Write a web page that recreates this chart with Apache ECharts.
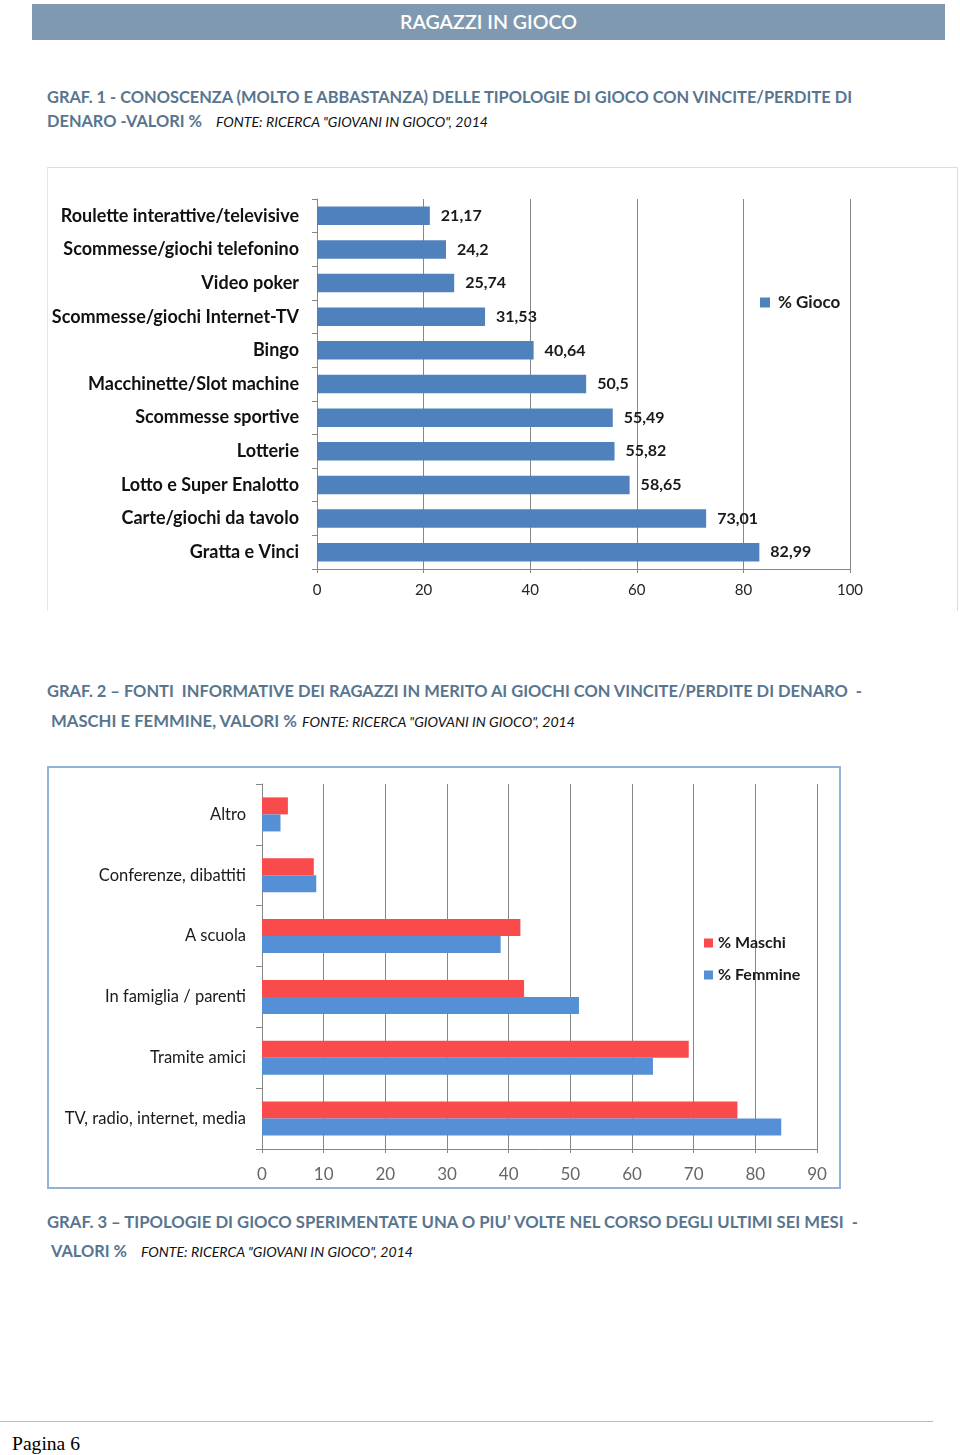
<!DOCTYPE html>
<html>
<head>
<meta charset="utf-8">
<script src="https://cdn.jsdelivr.net/npm/echarts@6/dist/echarts.min.js"></script>
<style>
  html,body{margin:0;padding:0;background:#fff;}
  body{width:960px;height:1455px;position:relative;overflow:hidden;font-family:Lato,"Open Sans",sans-serif;}
  .abs{position:absolute;white-space:nowrap;}
  .fit{display:inline-block;transform-origin:0 50%;}
  .h{color:#58758f;font-weight:700;font-size:17px;line-height:20px;}
  .src{color:#111;font-style:italic;font-size:13px;line-height:16px;}
</style>
</head>
<body>
<div class="abs" style="left:32px;top:4px;width:913px;height:36px;background:#7f9ab0;"></div>
<div class="abs" style="left:0;top:9px;width:960px;height:24px;"><span class="fit" data-w="177" style="position:absolute;left:400px;color:#fff;font-size:20px;line-height:24px;font-weight:600;">RAGAZZI IN GIOCO</span></div>

<div class="abs h" style="left:47px;top:87px;"><span class="fit" data-w="805">GRAF. 1 - CONOSCENZA (MOLTO E ABBASTANZA) DELLE TIPOLOGIE DI GIOCO CON VINCITE/PERDITE DI</span></div>
<div class="abs h" style="left:47px;top:111px;"><span class="fit" data-w="155">DENARO -VALORI %</span></div>
<div class="abs src" style="left:216px;top:114px;"><span class="fit" data-w="272">FONTE: RICERCA "GIOVANI IN GIOCO", 2014</span></div>

<div class="abs" style="left:47px;top:167px;width:909px;height:443px;border-top:1px solid #d8dee6;border-left:1px solid #e3e8ee;border-right:1px solid #d8dee6;"></div>
<div id="c1" class="abs" style="left:47px;top:167px;width:910px;height:443px;"></div>

<div class="abs h" style="left:47px;top:681px;"><span class="fit" data-w="815">GRAF. 2 – FONTI&nbsp; INFORMATIVE DEI RAGAZZI IN MERITO AI GIOCHI CON VINCITE/PERDITE DI DENARO&nbsp; -</span></div>
<div class="abs h" style="left:51px;top:711px;"><span class="fit" data-w="246">MASCHI E FEMMINE, VALORI %</span></div>
<div class="abs src" style="left:302px;top:714px;"><span class="fit" data-w="273">FONTE: RICERCA "GIOVANI IN GIOCO", 2014</span></div>

<div id="c2" class="abs" style="left:48px;top:767px;width:792px;height:421px;"></div>
<div class="abs" style="left:47px;top:766px;width:790px;height:419px;border:2px solid #95b3d7;pointer-events:none;"></div>

<div class="abs h" style="left:47px;top:1212px;"><span class="fit" data-w="811">GRAF. 3 – TIPOLOGIE DI GIOCO SPERIMENTATE UNA O PIU’ VOLTE NEL CORSO DEGLI ULTIMI SEI MESI&nbsp; -</span></div>
<div class="abs h" style="left:51px;top:1241px;"><span class="fit" data-w="76">VALORI %</span></div>
<div class="abs src" style="left:141px;top:1244px;"><span class="fit" data-w="272">FONTE: RICERCA "GIOVANI IN GIOCO", 2014</span></div>

<div class="abs" style="left:0;top:1421px;width:933px;height:1px;background:#b4bcc4;"></div>
<div class="abs" style="left:12px;top:1433px;font-family:'Liberation Serif','DejaVu Serif',serif;font-size:19px;line-height:22px;color:#000;"><span class="fit" data-w="68">Pagina 6</span></div>

<script>
// ---- Chart 1 data ----
const cat1 = ["Roulette interattive/televisive","Scommesse/giochi telefonino","Video poker","Scommesse/giochi Internet-TV","Bingo","Macchinette/Slot machine","Scommesse sportive","Lotterie","Lotto e Super Enalotto","Carte/giochi da tavolo","Gratta e Vinci"];
const val1 = [21.17, 24.2, 25.74, 31.53, 40.64, 50.5, 55.49, 55.82, 58.65, 73.01, 82.99];
const name1 = "% Gioco";

// ---- Chart 2 data ----
const cat2 = ["Altro","Conferenze, dibattiti","A scuola","In famiglia / parenti","Tramite amici","TV, radio, internet, media"];
const maschi = [4.2, 8.4, 41.9, 42.5, 69.2, 77.1];
const femmine = [3.0, 8.8, 38.7, 51.4, 63.4, 84.2];
const name2a = "% Maschi", name2b = "% Femmine";

// fit headings to measured widths
document.querySelectorAll('.fit').forEach(el => {
  const w = el.getBoundingClientRect().width;
  const t = +el.dataset.w;
  if (w > 0) el.style.transform = 'scaleX(' + (t / w) + ')';
});

const gray = '#868686';
const c1 = echarts.init(document.getElementById('c1'));
c1.setOption({
  animation: false,
  textStyle: {fontFamily: 'Lato'},
  grid: {left: 270, top: 32, width: 533, height: 370},
  legend: {
    data: [name1], left: 708, top: 122, icon: 'rect', itemWidth: 10, itemHeight: 10,
    textStyle: {fontSize: 17, fontWeight: 'bold', color: '#1a1a1a', padding: [0, 0, 0, 3]}
  },
  xAxis: {
    type: 'value', min: 0, max: 100, interval: 20,
    axisLine: {show: true, lineStyle: {color: gray}},
    axisTick: {show: true, length: 4, lineStyle: {color: gray}},
    splitLine: {lineStyle: {color: gray}},
    axisLabel: {fontSize: 15, color: '#262626', margin: 14}
  },
  yAxis: {
    type: 'category', inverse: true, data: cat1,
    axisLine: {lineStyle: {color: gray}},
    axisTick: {show: true, length: 5, lineStyle: {color: gray}},
    axisLabel: {fontSize: 18, fontWeight: 'bold', color: '#111', margin: 18, padding: [2, 0, 0, 0]}
  },
  series: [{
    type: 'bar', name: name1, data: val1, barCategoryGap: '45%',
    itemStyle: {color: '#4f81bd'},
    label: {show: true, position: 'right', distance: 11, fontSize: 16, fontWeight: 'bold', color: '#1a1a1a',
      padding: [2, 0, 0, 0],
      formatter: p => String(p.value).replace('.', ',')}
  }]
});

const c2 = echarts.init(document.getElementById('c2'));
c2.setOption({
  animation: false,
  textStyle: {fontFamily: 'Lato'},
  grid: {left: 214, top: 17, width: 555, height: 365},
  legend: {
    data: [name2a, name2b], orient: 'vertical', left: 651, top: 163, icon: 'rect',
    itemWidth: 9, itemHeight: 9, itemGap: 16,
    textStyle: {fontSize: 16, fontWeight: 'bold', color: '#1a1a1a'}
  },
  xAxis: {
    type: 'value', min: 0, max: 90, interval: 10,
    axisLine: {show: true, lineStyle: {color: gray}},
    axisTick: {show: true, length: 4, lineStyle: {color: gray}},
    splitLine: {lineStyle: {color: gray}},
    axisLabel: {fontSize: 17, color: '#666', margin: 17}
  },
  yAxis: {
    type: 'category', inverse: true, data: cat2,
    axisLine: {lineStyle: {color: gray}},
    axisTick: {show: true, length: 6, lineStyle: {color: gray}},
    axisLabel: {fontSize: 16.5, color: '#1a1a1a', margin: 16}
  },
  series: [
    {type: 'bar', name: name2a, data: maschi, barGap: '0%', barCategoryGap: '44%', itemStyle: {color: '#f94b4b'}},
    {type: 'bar', name: name2b, data: femmine, barGap: '0%', barCategoryGap: '44%', itemStyle: {color: '#5590d6'}}
  ]
});
</script>
</body>
</html>
